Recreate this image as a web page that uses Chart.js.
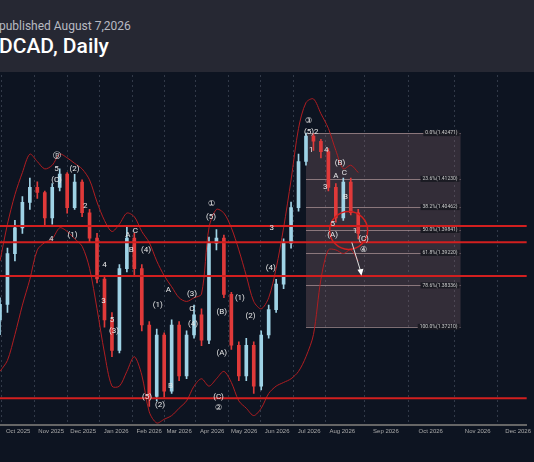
<!DOCTYPE html>
<html><head><meta charset="utf-8">
<script src="https://cdn.jsdelivr.net/npm/chart.js@4"></script>
<style>
body{margin:0;background:#0d1421;width:534px;height:462px;overflow:hidden;font-family:Roboto,sans-serif}
#head{height:72px;background:#262833;color:#fff;position:relative}
#pub{position:absolute;left:-1px;top:19px;font-size:12px;color:#b8bac2}
#ttl{position:absolute;left:-1px;top:34px;font-size:21px;font-weight:500}
#wrap{position:relative;width:534px;height:390px}
</style></head><body>
<div id="head"><div id="pub">published August 7,2026</div><div id="ttl">DCAD, Daily</div></div>
<div id="wrap"><canvas id="c" width="534" height="390"></canvas></div>
<script>
// weekly candles, x = days since 14 Sep 2025
const opens  = [1.3740,1.3782,1.3920,1.3990,1.4059,1.4100,1.4086,1.4017,1.4100,1.4136,1.4045,1.4114,1.4031,1.3962,1.3851,1.3740,1.3657,1.3879,1.3962,1.3879,1.3726,1.3532,1.3699,1.3546,1.3726,1.3588,1.3699,1.3754,1.3685,1.3948,1.3962,1.3809,1.3671,1.3588,1.3671,1.3560,1.3699,1.3768,1.3837,1.3948,1.4045,1.4170,1.4239,1.4225,1.4197,1.4100,1.4017,1.4114,1.4031];
const closes = [1.3782,1.3920,1.3990,1.4059,1.4100,1.4086,1.4017,1.4100,1.4136,1.4045,1.4114,1.4031,1.3962,1.3851,1.3740,1.3657,1.3879,1.3962,1.3879,1.3726,1.3532,1.3699,1.3546,1.3726,1.3588,1.3699,1.3754,1.3685,1.3948,1.3962,1.3809,1.3671,1.3588,1.3671,1.3560,1.3699,1.3768,1.3837,1.3948,1.4045,1.4170,1.4239,1.4225,1.4197,1.4100,1.4017,1.4114,1.4031,1.3975];
const highs  = [1.3800,1.3935,1.4010,1.4075,1.4125,1.4115,1.4090,1.4110,1.4150,1.4140,1.4135,1.4120,1.4040,1.3975,1.3860,1.3760,1.3890,1.3995,1.3975,1.3890,1.3735,1.3715,1.3705,1.3740,1.3735,1.3710,1.3780,1.3770,1.3965,1.3985,1.3970,1.3815,1.3680,1.3690,1.3680,1.3710,1.3780,1.3850,1.3960,1.4060,1.4190,1.4247,1.4245,1.4230,1.4205,1.4110,1.4125,1.4125,1.4040];
const lows   = [1.3700,1.3760,1.3900,1.3975,1.4040,1.4070,1.3995,1.4000,1.4090,1.4030,1.4040,1.4020,1.3950,1.3840,1.3720,1.3640,1.3650,1.3870,1.3860,1.3710,1.3505,1.3520,1.3530,1.3540,1.3575,1.3580,1.3690,1.3670,1.3675,1.3930,1.3800,1.3660,1.3575,1.3575,1.3540,1.3550,1.3690,1.3760,1.3825,1.3935,1.4035,1.4160,1.4200,1.4180,1.4090,1.4005,1.4010,1.4025,1.3960];
const upperBand = [1.3900,1.4000,1.4080,1.4140,1.4190,1.4170,1.4150,1.4160,1.4190,1.4180,1.4165,1.4150,1.4120,1.4060,1.4010,1.3980,1.4000,1.4030,1.4020,1.3980,1.3950,1.3900,1.3860,1.3830,1.3800,1.3790,1.3800,1.3810,1.3990,1.4040,1.4030,1.3990,1.3930,1.3860,1.3790,1.3770,1.3800,1.3880,1.3990,1.4120,1.4260,1.4330,1.4340,1.4300,1.4260,1.4200,1.4150,1.4160,1.4140];
const lowerBand = [1.3600,1.3630,1.3700,1.3780,1.3850,1.3930,1.3950,1.3960,1.3990,1.3980,1.3960,1.3940,1.3880,1.3770,1.3650,1.3560,1.3560,1.3600,1.3640,1.3590,1.3490,1.3460,1.3470,1.3480,1.3500,1.3520,1.3560,1.3580,1.3560,1.3580,1.3600,1.3570,1.3520,1.3500,1.3480,1.3500,1.3540,1.3560,1.3570,1.3580,1.3600,1.3640,1.3700,1.3850,1.3930,1.3930,1.3920,1.3930,1.3900];
const hLines = [1.3995,1.3951,1.3859,1.3527];
const fibPct = ['0.0%','23.6%','38.2%','50.0%','61.8%','78.6%','100.0%'];
const fibVal = [1.42471,1.41230,1.40462,1.39841,1.39220,1.38336,1.37210];
const fibFrom = 287, fibTo = 432;
const tickDays = [17,48,78,109,140,168,199,229,260,290,321,362,404,448,486];
const tickText = ['Oct 2025','Nov 2025','Dec 2025','Jan 2026','Feb 2026','Mar 2026','Apr 2026','May 2026','Jun 2026','Jul 2026','Aug 2026','Sep 2026','Oct 2026','Nov 2026','Dec 2026'];
const waveText = ['5','(C)','Ⓑ','(2)','2','(1)','4','A','C','B','4','(4)','3','5','(3)','(1)','(2)','(5)','B','A','(3)','C','(4)','①','(5)','(B)','(A)','(C)','②','(1)','(2)','3','(4)','③','(5)2','1','4','3','(B)','A','C','B','5','(A)','1','(C)','④'];
const waveX = [53,53,53,70,80,68,48,120,127,123,98,137,97,105,107,148,150,138,160,158,180,180,181,198,198,208,208,205,205,225,235,255,254,289,292,292,306,305,319,315,323,324,312,312,333,341,341];
const waveY = [1.4150,1.4120,1.4185,1.4150,1.4050,1.3970,1.3960,1.3970,1.3980,1.3930,1.3890,1.3930,1.3790,1.3740,1.3710,1.3780,1.3510,1.3530,1.3560,1.3820,1.3810,1.3770,1.3730,1.4055,1.4020,1.3760,1.3650,1.3530,1.3500,1.3800,1.3750,1.3990,1.3880,1.4280,1.4250,1.4200,1.4200,1.4100,1.4165,1.4130,1.4140,1.4075,1.4000,1.3970,1.3980,1.3960,1.3930];

const days = closes.map((c, i) => i * 7);
const up = closes.map((c, i) => c >= opens[i]);

const overlay = {
  id: 'overlay',
  beforeDatasetsDraw(ch) {
    const {ctx, scales: {x, y}} = ch;
    const x0 = x.getPixelForValue(fibFrom), x1 = x.getPixelForValue(fibTo);
    const y0 = y.getPixelForValue(fibVal[0]), y1 = y.getPixelForValue(fibVal[6]);
    ctx.save();
    ctx.fillStyle = 'rgba(150,110,120,0.28)';
    ctx.fillRect(x0, y0, x1 - x0, y1 - y0);
    ctx.strokeStyle = 'rgba(200,170,170,0.6)';
    ctx.lineWidth = 1;
    fibVal.forEach(v => { const py = Math.round(y.getPixelForValue(v)) + 0.5; ctx.beginPath(); ctx.moveTo(x0, py); ctx.lineTo(x1, py); ctx.stroke(); });
    ctx.restore();
  },
  afterDatasetsDraw(ch) {
    const {ctx, chartArea: a, scales: {x, y}} = ch;
    ctx.save();
    ctx.strokeStyle = '#d21f1f'; ctx.lineWidth = 2;
    hLines.forEach(v => { const py = y.getPixelForValue(v); ctx.beginPath(); ctx.moveTo(a.left, py); ctx.lineTo(a.right, py); ctx.stroke(); });
    // circle + arrow
    ctx.lineWidth = 1.5;
    ctx.beginPath(); ctx.arc(x.getPixelForValue(327), y.getPixelForValue(1.3983), 19, 0, Math.PI * 2); ctx.stroke();
    ctx.strokeStyle = '#ddd'; ctx.lineWidth = 1;
    const ax0 = x.getPixelForValue(330), ay0 = y.getPixelForValue(1.3950), ax1 = x.getPixelForValue(339), ay1 = y.getPixelForValue(1.3865);
    ctx.beginPath(); ctx.moveTo(ax0, ay0); ctx.lineTo(ax1, ay1); ctx.stroke();
    ctx.fillStyle = '#fff'; ctx.beginPath(); ctx.moveTo(ax1, ay1 + 2); ctx.lineTo(ax1 - 4, ay1 - 4); ctx.lineTo(ax1 + 2, ay1 - 5); ctx.fill();
    // fib labels
    const lx = x.getPixelForValue(fibTo);
    ctx.font = '5px Roboto'; ctx.textAlign = 'right'; ctx.textBaseline = 'middle';
    fibVal.forEach((v, i) => {
      const t = fibPct[i] + '(' + v.toFixed(5) + ')', py = y.getPixelForValue(v), w = ctx.measureText(t).width + 4;
      ctx.fillStyle = '#1a1a22'; ctx.fillRect(lx - w - 1, py - 3, w, 6);
      ctx.fillStyle = '#ccc'; ctx.fillText(t, lx - 3, py);
    });
    // wave labels
    ctx.font = '8px Roboto'; ctx.textAlign = 'center'; ctx.fillStyle = '#e8e8e8';
    waveText.forEach((t, i) => ctx.fillText(t, x.getPixelForValue(waveX[i]), y.getPixelForValue(waveY[i])));
    ctx.restore();
  }
};

new Chart(document.getElementById('c'), {
  type: 'bar',
  data: {
    datasets: [
      {type: 'line', data: days.map((d, i) => ({x: d, y: upperBand[i]})), borderColor: '#b01e22', borderWidth: 1, pointRadius: 0, tension: 0.3},
      {type: 'line', data: days.map((d, i) => ({x: d, y: lowerBand[i]})), borderColor: '#b01e22', borderWidth: 1, pointRadius: 0, tension: 0.3},
      {data: days.map((d, i) => ({x: d, y: [lows[i], highs[i]]})), backgroundColor: up.map(u => u ? '#9fd3e6' : '#e03a3a'), barThickness: 1, grouped: false},
      {data: days.map((d, i) => ({x: d, y: [opens[i], closes[i]]})), backgroundColor: up.map(u => u ? '#9fd3e6' : '#e03a3a'), barThickness: 3, grouped: false}
    ]
  },
  options: {
    responsive: false, animation: false,
    layout: {padding: {top: 3, bottom: 24}},
    plugins: {legend: {display: false}, tooltip: {enabled: false}},
    scales: {
      x: {type: 'linear', min: 0, max: 494, offset: false,
        afterBuildTicks: s => { s.ticks = tickDays.map(v => ({value: v})); },
        ticks: {color: '#aaa', font: {size: 6}, maxRotation: 0, autoSkip: false, callback: (v) => tickText[tickDays.indexOf(v)]},
        grid: {color: 'rgba(120,130,150,0.35)', drawTicks: false},
        border: {color: '#666', width: 2, dash: [2, 3]}},
      y: {display: false, min: 1.3455, max: 1.4405}
    }
  },
  plugins: [overlay]
});
</script>
</body></html>
